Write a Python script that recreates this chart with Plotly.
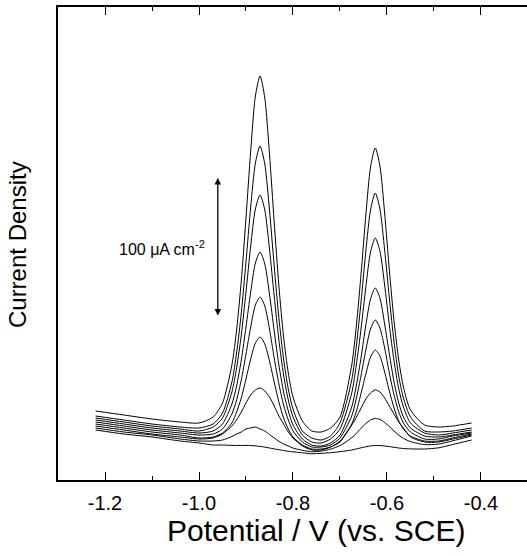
import plotly.graph_objects as go

# Potential (V vs. SCE) sampling points shared by all sweeps
potential = [-1.22, -1.16, -1.10, -1.04, -1.00, -0.97, -0.95, -0.93, -0.92, -0.91,
             -0.90, -0.89, -0.88, -0.87, -0.86, -0.85, -0.84, -0.83, -0.82, -0.81,
             -0.80, -0.78, -0.76, -0.74, -0.72, -0.70, -0.675, -0.665, -0.655, -0.645,
             -0.635, -0.625, -0.615, -0.605, -0.595, -0.585, -0.575, -0.565, -0.55, -0.52,
             -0.49, -0.46, -0.42]

# Current density (arbitrary offset, ~1.39 units = 1 uA cm-2) for each sweep
j1 = [69, 65, 61, 58, 57, 63, 77, 115, 150, 199, 262, 329, 384, 404, 382, 326, 258, 194, 143, 107,
      83, 59, 49, 48, 52, 63, 115, 155, 207, 265, 313, 332, 314, 267, 210, 159, 120, 93, 70, 55,
      53, 54, 57]
j2 = [64, 60, 56, 53, 52, 56, 67, 98, 127, 167, 218, 273, 317, 334, 316, 270, 214, 162, 121, 91,
      71, 49, 42, 40, 44, 57, 100, 135, 179, 229, 270, 287, 271, 230, 182, 138, 104, 82, 63, 49,
      48, 49, 52]
j3 = [62, 58, 54, 51, 49, 53, 62, 88, 112, 145, 188, 234, 271, 285, 270, 231, 184, 140, 105, 80,
      63, 45, 38, 37, 41, 51, 87, 116, 152, 193, 228, 242, 229, 195, 155, 119, 91, 73, 57, 47,
      45, 47, 50]
j4 = [60, 56, 52, 49, 47, 49, 56, 76, 94, 120, 153, 188, 217, 228, 216, 186, 149, 115, 88, 69,
      55, 41, 35, 34, 37, 45, 73, 95, 123, 155, 181, 192, 182, 156, 126, 98, 77, 63, 52, 44,
      43, 45, 48]
j5 = [58, 54, 50, 47, 45, 46, 51, 66, 80, 100, 126, 153, 175, 183, 174, 151, 122, 96, 75, 60,
      49, 38, 33, 33, 35, 42, 64, 82, 105, 130, 151, 160, 152, 132, 107, 85, 68, 57, 48, 41,
      41, 44, 47]
j6 = [56, 52, 48, 45, 42, 43, 47, 57, 68, 82, 101, 121, 137, 143, 136, 119, 98, 78, 62, 51,
      43, 35, 31, 31, 33, 39, 56, 69, 87, 106, 123, 130, 124, 108, 89, 72, 59, 51, 44, 39,
      39, 42, 46]
j7 = [54, 50, 46, 43, 41, 42, 46, 54, 60, 68, 77, 85, 90, 92, 89, 83, 74, 64, 56, 48,
      42, 34, 30, 30, 33, 38, 55, 63, 72, 81, 87, 90, 88, 82, 74, 66, 58, 52, 43, 38,
      38, 41, 45]
j8 = [52, 48, 45, 41, 39, 39, 40, 43.5, 46, 48, 51, 52, 53, 51, 49, 45.5, 42, 38.7, 36, 34,
      32, 29.7, 28.2, 29, 30.9, 34.4, 42.2, 46.7, 51.8, 56.5, 60, 61.5, 60.6, 57.5, 53.4, 48.9, 44.8, 41.6, 38.4, 35.4,
      35.9, 39.2, 44]
j9 = [50, 46, 43, 39, 37, 35, 35, 34.6, 34.6, 34.5, 34.6, 34.5, 34.1, 33.6, 32.9, 32.0, 31.1, 30.3, 29.5, 28.7,
      28.2, 27.2, 26.2, 26.7, 27.3, 28.3, 30.0, 31.1, 32.2, 33.2, 34.1, 34.5, 34.5, 34.0, 33.4, 32.7, 32.0, 31.5, 31.1, 31.0,
      32.2, 35.5, 40]

sweeps = [j1, j2, j3, j4, j5, j6, j7, j8, j9]

major_ticks = [-1.2, -1.0, -0.8, -0.6, -0.4]
major_labels = ["-1.2", "-1.0", "-0.8", "-0.6", "-0.4"]
minor_ticks = [-1.1, -0.9, -0.7, -0.5]

# scale bar: 100 uA cm-2
bar_x = -0.96
bar_bottom = 163
bar_top = 302

FONT = "Arial, Liberation Sans, Helvetica, sans-serif"

fig = go.Figure()
for ys in sweeps:
    fig.add_trace(go.Scatter(
        x=potential, y=ys, mode="lines",
        line=dict(color="black", width=1, shape="spline", smoothing=0.7),
        showlegend=False, hoverinfo="skip"))

fig.update_layout(
    width=527, height=557,
    margin=dict(l=58, r=0, t=7, b=77),
    paper_bgcolor="white", plot_bgcolor="white",
    font=dict(family=FONT, color="black"),
    xaxis=dict(
        range=[-1.3, -0.3021],
        tickmode="array", tickvals=major_ticks, ticktext=major_labels,
        ticks="inside", ticklen=8, tickwidth=1.3, tickcolor="black",
        minor=dict(tickvals=minor_ticks, ticks="inside", ticklen=4, tickwidth=1.2, tickcolor="black"),
        showline=True, linecolor="black", linewidth=1.5, mirror="ticks",
        showgrid=False, zeroline=False,
        tickfont=dict(size=20, family=FONT),
        ticklabelstandoff=4,
    ),
    yaxis=dict(
        range=[0, 473],
        showticklabels=False, ticks="",
        showline=True, linecolor="black", linewidth=1.5, mirror=False,
        showgrid=False, zeroline=False,
    ),
    annotations=[
        dict(x=bar_x, y=bar_top, ax=bar_x, ay=bar_bottom, xref="x", yref="y",
             axref="x", ayref="y", text="", showarrow=True,
             arrowhead=2, arrowside="end+start", arrowsize=1, arrowwidth=1.3,
             arrowcolor="black"),
        dict(x=-0.983, y=232, xref="x", yref="y", xanchor="right", yanchor="middle",
             text="100 \u03bcA cm<sup>-2</sup>", showarrow=False,
             font=dict(size=16, family=FONT)),
        dict(x=0.55, y=-0.106, xref="paper", yref="paper", xanchor="center", yanchor="middle",
             text="Potential / V (vs. SCE)", showarrow=False,
             font=dict(size=30, family=FONT)),
        dict(x=-0.085, y=0.497, xref="paper", yref="paper", xanchor="center", yanchor="middle",
             text="Current Density", textangle=-90, showarrow=False,
             font=dict(size=24, family=FONT)),
    ],
)

fig.write_html("out.html", config={"displayModeBar": False},
               post_script="document.body.style.margin='0';document.body.style.overflow='hidden';")
